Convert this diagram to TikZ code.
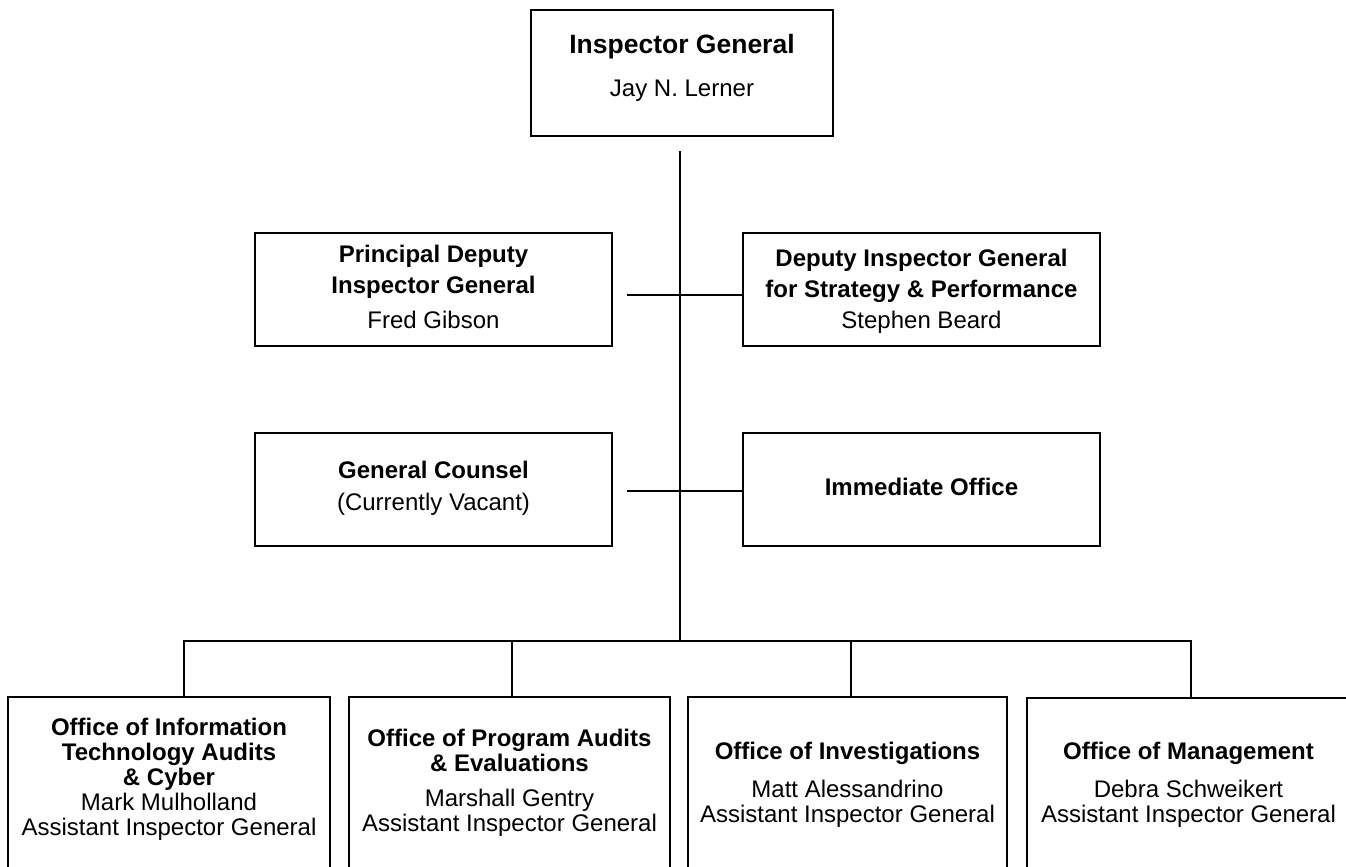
\documentclass[tikz,border=0pt]{standalone}
\usepackage{fontspec}
\setmainfont{Liberation Sans}
\begin{document}
\begin{tikzpicture}[x=1pt,y=-1pt,
  box/.style={draw, line width=1.7pt, rectangle, inner sep=0pt},
  conn/.style={line width=1.7pt},
  ttl/.style={font=\fontsize{24}{28}\selectfont\bfseries, anchor=base, inner sep=0pt},
  bigttl/.style={font=\fontsize{26.5}{30}\selectfont\bfseries, anchor=base, inner sep=0pt},
  nm/.style={font=\fontsize{24}{28}\selectfont, anchor=base, inner sep=0pt}]
\useasboundingbox (0,0) rectangle (1346,867);
\clip (0,0) rectangle (1346,867);
\fill[white] (0,0) rectangle (1346,867);

% boxes
\node[box, minimum width=302pt, minimum height=126pt] (ig) at (682,73) {};
\node[box, minimum width=357pt, minimum height=113pt] (pd) at (433.5,289.5) {};
\node[box, minimum width=357pt, minimum height=113pt] (dig) at (921.5,289.5) {};
\node[box, minimum width=357pt, minimum height=113pt] (gc) at (433.5,489.5) {};
\node[box, minimum width=357pt, minimum height=113pt] (io) at (921.5,489.5) {};
\node[box, minimum width=322pt, minimum height=203pt] (b1) at (169,798.5) {};
\node[box, minimum width=321pt, minimum height=203pt] (b2) at (509.5,798.5) {};
\node[box, minimum width=319pt, minimum height=203pt] (b3) at (847.5,798.5) {};
\node[box, minimum width=323pt, minimum height=203pt] (b4) at (1188.5,799.5) {};

% texts
\node[bigttl] (ig1) at (682,53) {Inspector General};
\node[nm] (ig2) at (682,96) {Jay N. Lerner};

\node[ttl] (pd1) at (433.5,262) {Principal Deputy};
\node[ttl] (pd2) at (433.5,293) {Inspector General};
\node[nm] (pd3) at (433.5,328) {Fred Gibson};

\node[ttl] (dig1) at (921.5,266) {Deputy Inspector General};
\node[ttl] (dig2) at (921.5,297) {for Strategy \& Performance};
\node[nm] (dig3) at (921.5,328) {Stephen Beard};

\node[ttl] (gc1) at (433.5,478) {General Counsel};
\node[nm] (gc2) at (433.5,510) {(Currently Vacant)};

\node[ttl] (io1) at (921.5,495) {Immediate Office};

\node[ttl] (b11) at (169,735) {Office of Information};
\node[ttl] (b12) at (169,760) {Technology Audits};
\node[ttl] (b13) at (169,785) {\& Cyber};
\node[nm] (b14) at (169,810) {Mark Mulholland};
\node[nm] (b15) at (169,835) {Assistant Inspector General};

\node[ttl] (b21) at (509.5,746) {Office of Program Audits};
\node[ttl] (b22) at (509.5,771) {\& Evaluations};
\node[nm] (b23) at (509.5,806) {Marshall Gentry};
\node[nm] (b24) at (509.5,831) {Assistant Inspector General};

\node[ttl] (b31) at (847.5,759) {Office of Investigations};
\node[nm] (b32) at (847.5,797) {Matt Alessandrino};
\node[nm] (b33) at (847.5,822) {Assistant Inspector General};

\node[ttl] (b41) at (1188.5,759) {Office of Management};
\node[nm] (b42) at (1188.5,797) {Debra Schweikert};
\node[nm] (b43) at (1188.5,822) {Assistant Inspector General};

% connectors
\coordinate (vtop) at (680,151);
\coordinate (bus) at (680,641);
\coordinate (hl1) at (627,295);
\coordinate (hl2) at (627,491);
\coordinate (d1) at (184,641);
\coordinate (d2) at (512,641);
\coordinate (d3) at (851,641);
\coordinate (d4) at (1191,641);
\draw[conn] (vtop) -- (bus);
\draw[conn] (hl1) -- (hl1 -| dig.west);
\draw[conn] (hl2) -- (hl2 -| io.west);
\draw[conn, line cap=rect] (d1) -- (d4);
\draw[conn] (d1) -- (d1 |- b1.north);
\draw[conn] (d2) -- (d2 |- b2.north);
\draw[conn] (d3) -- (d3 |- b3.north);
\draw[conn] (d4) -- (d4 |- b4.north);
\end{tikzpicture}
\end{document}
